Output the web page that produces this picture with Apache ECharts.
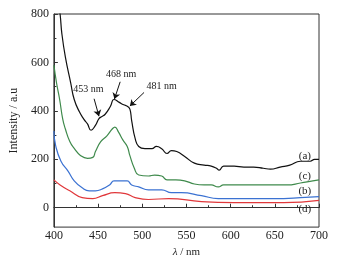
<!DOCTYPE html>
<html>
<head>
<meta charset="utf-8">
<script src="https://cdn.jsdelivr.net/npm/echarts@6/dist/echarts.min.js"></script>
<style>
  html, body { margin: 0; padding: 0; background: #fff; }
  #chart { width: 337px; height: 263px; }
</style>
</head>
<body>
<div id="chart"></div>
<script>
// spectra: [wavelength nm, intensity a.u]
var curveA = [[400,1000],[407,800],[409,719],[413,622],[419,516],[423,447],[429,395],[434,365],[438,346],[442,320],[447,340],[451,368],[454,376],[458,386],[464,419],[468,447],[474,435],[479,425],[483,419],[486,407],[488,360],[492,285],[496,253],[503,244],[511,244],[516,253],[522,244],[528,224],[533,236],[539,232],[548,212],[559,184],[570,176],[578,172],[584,163],[587,155],[592,172],[604,172],[615,168],[626,168],[637,163],[645,159],[656,168],[667,176],[679,192],[690,192],[695,200],[700,200]];
var curveC = [[400,589],[403,515],[406.5,447],[410,366],[413,325],[418,273],[423,245],[430,216],[438,204],[444,208],[447,232],[453,273],[460,297],[466,325],[469,333],[473,313],[478,280],[483,253],[486,215],[491,163],[496,135],[507,131],[514,135],[522,131],[528,115],[538,115],[548,111],[559,98],[570,94],[578,94],[586,86],[592,94],[612,94],[642,94],[664,94],[679,102],[693,111],[700,115]];
var curveB = [[400,317],[402,256],[408,192],[416,151],[423,111],[432,82],[440,70],[447,70],[455,78],[463,94],[468,111],[475,111],[483,111],[488,94],[496,86],[507,74],[522,74],[533,62],[544,62],[567,50],[586,38],[623,38],[660,38],[679,42],[700,46]];
var curveD = [[400,115],[407,94],[418,70],[432,42],[444,38],[455,50],[469,62],[481,58],[492,42],[507,34],[530,38],[567,25],[604,21],[660,21],[700,30]];

var yMajor = [0, 200, 400, 600, 800];
var yMinor = [100, 300, 500, 700];
var curveNames = ['(a)', '(b)', '(c)', '(d)'];
var curveColors = ['#111111', '#3b72d2', '#3f8a4c', '#e0383b'];

// peak annotations: text position, arrow start, arrow tip
var peakLabels = ['453 nm', '468 nm', '481 nm'];
var peakText = [[439, 490], [476, 551], [522, 500]];
var peakFrom = [[445.5, 450], [475, 520], [502, 476]];
var peakTo = [[451, 378], [468.5, 449], [486, 420]];

// curve letters placed near the right edge
var tagPos = [[684, 212], [684, 70], [684, 131], [684, -7]];

var font = 'Liberation Serif';
var chart = echarts.init(document.getElementById('chart'));

function makeSeries(name, data, color, idx) {
    return {
        name: name,
        type: 'line',
        data: data,
        smooth: 0.5,
        symbol: 'none',
        clip: true,
        lineStyle: { color: color, width: 1.2 },
        markPoint: {
            symbol: 'circle',
            symbolSize: 0,
            silent: true,
            label: {
                show: true,
                formatter: name,
                color: '#222',
                fontFamily: font,
                fontSize: 11
            },
            data: [{ coord: tagPos[idx] }]
        },
        z: 3
    };
}

var series = [
    makeSeries(curveNames[3], curveD, curveColors[3], 3),
    makeSeries(curveNames[1], curveB, curveColors[1], 1),
    makeSeries(curveNames[2], curveC, curveColors[2], 2),
    makeSeries(curveNames[0], curveA, curveColors[0], 0)
];

// arrows + texts for the peaks hang on the black curve
var arrows = [];
var texts = [];
for (var i = 0; i < peakLabels.length; i++) {
    arrows.push([
        { coord: peakFrom[i], symbol: 'none' },
        { coord: peakTo[i], symbol: 'arrow', symbolSize: 6 }
    ]);
    texts.push({ coord: peakText[i], value: peakLabels[i] });
}
series[3].markLine = {
    silent: true,
    symbol: ['none', 'arrow'],
    symbolSize: 6,
    lineStyle: { color: '#111', width: 1, type: 'solid' },
    label: { show: false },
    data: arrows
};
series.push({
    type: 'line',
    data: [],
    markPoint: {
        symbol: 'circle',
        symbolSize: 0,
        silent: true,
        label: {
            show: true,
            formatter: '{c}',
            color: '#222',
            fontFamily: font,
            fontSize: 10
        },
        data: texts
    }
});

var option = {
    animation: false,
    backgroundColor: '#fff',
    grid: {
        left: 51, right: 18, top: 14, bottom: 33,
        show: true,
        borderColor: '#333',
        borderWidth: 1
    },
    xAxis: {
        type: 'value',
        min: 400,
        max: 700,
        interval: 50,
        name: '{i|λ} / nm',
        nameLocation: 'middle',
        nameGap: 17,
        nameTextStyle: {
            fontFamily: font, fontSize: 11, color: '#222',
            rich: { i: { fontStyle: 'italic', fontFamily: font, fontSize: 11 } }
        },
        axisLine: { lineStyle: { color: '#333', width: 1 } },
        axisTick: { inside: true, length: 4, lineStyle: { color: '#333' } },
        minorTick: { show: true, splitNumber: 2, length: 2.5, lineStyle: { color: '#333' } },
        axisLabel: { fontFamily: font, fontSize: 12, color: '#222', margin: 3 },
        splitLine: { show: false }
    },
    yAxis: [{
        type: 'value',
        min: -80,
        max: 800,
        name: 'Intensity / a.u',
        nameLocation: 'middle',
        nameGap: 31,
        nameTextStyle: { fontFamily: font, fontSize: 12, color: '#222' },
        axisLine: { show: true, lineStyle: { color: '#333', width: 1 } },
        axisTick: { show: true, inside: true, length: 4, customValues: yMajor, lineStyle: { color: '#333' } },
        axisLabel: { fontFamily: font, fontSize: 12, color: '#222', margin: 5, customValues: yMajor },
        splitLine: { show: false }
    }, {
        type: 'value',
        position: 'left',
        min: -80,
        max: 800,
        axisLine: { show: false },
        axisTick: { show: true, inside: true, length: 2.5, customValues: yMinor, lineStyle: { color: '#333' } },
        axisLabel: { show: false, customValues: yMinor },
        splitLine: { show: false }
    }],
    series: series
};
chart.setOption(option);
</script>
</body>
</html>
